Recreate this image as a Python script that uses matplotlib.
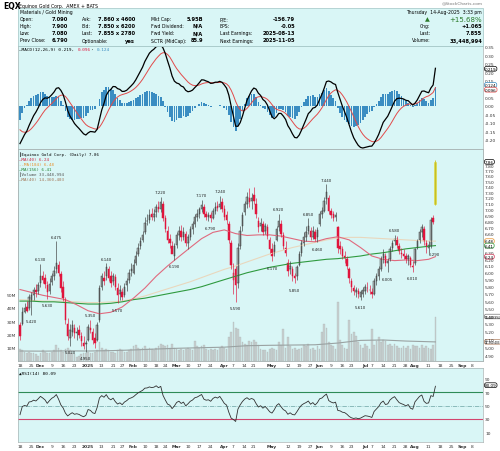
import numpy as np
import pandas as pd
import matplotlib
matplotlib.use("Agg")
import matplotlib.pyplot as plt
from matplotlib.patches import Rectangle

W, H = 500, 452

# ---- daily candles, Nov 18 2024 .. Aug 14 2025 ----
opens = [
    5.28, 5.30, 5.45, 5.52, 5.50,   # Nov 18
    5.62, 5.68, 5.75, 5.74,         # Nov 25
    5.85, 5.96, 5.92, 5.82, 5.74,   # Dec 2
    5.86, 5.95, 6.05, 6.12, 5.98,   # Dec 9
    5.80, 5.62, 5.30, 5.12, 5.20,   # Dec 16
    5.25, 5.18, 5.22, 5.15,         # Dec 23
    5.06, 5.04, 5.10, 5.25,         # Dec 30
    5.20, 5.12, 5.10, 5.35,         # Jan 6
    5.80, 5.92, 5.95, 6.05, 5.95,   # Jan 13
    5.88, 5.94, 5.78, 5.70,         # Jan 21
    5.72, 5.68, 5.82, 5.90, 6.02,   # Jan 27
    6.00, 6.15, 6.28, 6.40, 6.50,   # Feb 3
    6.62, 6.80, 6.82, 6.92, 6.88,   # Feb 10
    6.95, 7.05, 7.00, 7.10,         # Feb 18
    6.85, 6.65, 6.52, 6.40, 6.25,   # Feb 24
    6.42, 6.58, 6.65, 6.55, 6.60,   # Mar 3
    6.45, 6.55, 6.68, 6.75, 6.88,   # Mar 10
    6.92, 7.00, 7.05, 6.92, 6.88,   # Mar 17
    6.90, 6.86, 6.98, 7.06, 7.05,   # Mar 24
    7.12, 7.00, 6.90, 6.75, 6.45,   # Mar 31
    5.90, 6.05, 5.85, 6.40, 6.72,   # Apr 7
    6.95, 7.10, 7.20, 7.15,         # Apr 14
    7.25, 7.10, 6.80, 6.72, 6.75,   # Apr 21
    6.65, 6.70, 6.50, 6.35, 6.30,   # Apr 28
    6.50, 6.70, 6.75, 6.58, 6.38,   # May 5
    6.15, 6.05, 6.05, 5.95, 5.95,   # May 12
    6.12, 6.30, 6.45, 6.55, 6.65,   # May 19
    6.65, 6.55, 6.62, 6.55,         # May 27
    6.75, 6.92, 6.98, 7.18, 7.20,   # Jun 2
    6.98, 6.92, 6.88, 6.70, 6.40,   # Jun 9
    6.35, 6.25, 6.20, 6.05,         # Jun 16
    5.88, 5.78, 5.72, 5.74, 5.66,   # Jun 23
    5.70, 5.74, 5.78, 5.76,         # Jun 30
    5.72, 5.70, 5.88, 5.96, 6.06,   # Jul 7
    6.22, 6.25, 6.15, 6.20, 6.38,   # Jul 14
    6.48, 6.52, 6.40, 6.30, 6.28,   # Jul 21
    6.25, 6.20, 6.22, 6.10, 6.15,   # Jul 28
    6.38, 6.50, 6.62, 6.68, 6.45,   # Aug 4
    6.38, 6.40, 6.85, 7.09,         # Aug 11
]
highs = [
    5.32, 5.52, 5.58, 5.60, 5.70,
    5.72, 5.80, 5.84, 5.86,
    6.13, 6.02, 5.98, 5.88, 5.92,
    6.00, 6.10, 6.475, 6.18, 6.02,
    5.88, 5.66, 5.38, 5.30, 5.35,
    5.30, 5.26, 5.28, 5.20,
    5.14, 5.10, 5.30, 5.35,
    5.24, 5.18, 5.32, 5.82,
    6.00, 6.02, 6.14, 6.10, 6.02,
    6.00, 5.98, 5.85, 5.82,
    5.78, 5.85, 5.92, 6.05, 6.15,
    6.20, 6.32, 6.45, 6.55, 6.65,
    6.88, 6.92, 7.00, 7.02, 7.00,
    7.10, 7.15, 7.22, 7.14,
    6.90, 6.72, 6.60, 6.48, 6.45,
    6.62, 6.72, 6.74, 6.70, 6.65,
    6.60, 6.72, 6.80, 6.92, 7.00,
    7.05, 7.17, 7.10, 6.98, 6.95,
    6.95, 7.02, 7.12, 7.15, 7.24,
    7.20, 7.08, 6.98, 6.80, 6.50,
    6.15, 6.10, 6.45, 6.72, 6.95,
    7.15, 7.30, 7.38, 7.28,
    7.40, 7.20, 6.88, 6.85, 6.80,
    6.78, 6.75, 6.55, 6.45, 6.48,
    6.72, 6.92, 6.82, 6.62, 6.48,
    6.20, 6.18, 6.10, 6.00, 6.12,
    6.32, 6.50, 6.62, 6.72, 6.85,
    6.70, 6.72, 6.68, 6.70,
    6.98, 7.05, 7.22, 7.44, 7.25,
    7.02, 6.98, 6.95, 6.72, 6.48,
    6.40, 6.32, 6.25, 6.08,
    5.92, 5.82, 5.80, 5.78, 5.76,
    5.80, 5.84, 5.86, 5.82,
    5.78, 5.92, 6.00, 6.10, 6.25,
    6.35, 6.30, 6.22, 6.40, 6.50,
    6.58, 6.56, 6.45, 6.38, 6.35,
    6.30, 6.28, 6.25, 6.18, 6.38,
    6.52, 6.68, 6.75, 6.72, 6.50,
    6.48, 6.88, 6.90, 7.90,
]
lows = [
    5.10, 5.28, 5.44, 5.45, 5.48,
    5.42, 5.62, 5.66, 5.70,
    5.80, 5.85, 5.78, 5.63, 5.70,
    5.82, 5.90, 6.00, 5.95, 5.72,
    5.60, 5.30, 5.10, 5.02, 5.15,
    5.12, 5.10, 5.12, 5.02,
    4.98, 4.95, 5.08, 5.18,
    5.05, 5.00, 5.08, 5.32,
    5.75, 5.82, 5.90, 5.88, 5.80,
    5.82, 5.75, 5.57, 5.62,
    5.62, 5.65, 5.74, 5.85, 5.95,
    5.98, 6.12, 6.25, 6.36, 6.46,
    6.60, 6.74, 6.78, 6.82, 6.80,
    6.88, 6.95, 6.96, 6.80,
    6.62, 6.45, 6.38, 6.30, 6.19,
    6.38, 6.50, 6.48, 6.50, 6.40,
    6.35, 6.50, 6.60, 6.70, 6.80,
    6.85, 6.95, 6.88, 6.82, 6.80,
    6.79, 6.84, 6.92, 6.98, 7.00,
    6.95, 6.82, 6.75, 6.45, 6.05,
    5.70, 5.59, 5.78, 6.35, 6.65,
    6.90, 7.02, 7.05, 7.00,
    7.10, 6.85, 6.62, 6.65, 6.58,
    6.60, 6.52, 6.30, 6.17, 6.25,
    6.48, 6.65, 6.55, 6.35, 6.25,
    5.95, 5.98, 5.88, 5.85, 5.90,
    6.10, 6.25, 6.40, 6.48, 6.60,
    6.50, 6.52, 6.48, 6.46,
    6.72, 6.85, 6.95, 7.10, 6.92,
    6.85, 6.80, 6.80, 6.30, 6.28,
    6.20, 6.15, 6.05, 5.85,
    5.72, 5.68, 5.66, 5.64, 5.61,
    5.66, 5.70, 5.72, 5.70,
    5.64, 5.68, 5.82, 5.90, 6.03,
    6.15, 6.10, 6.005, 6.18, 6.32,
    6.42, 6.38, 6.28, 6.22, 6.20,
    6.15, 6.12, 6.08, 6.01, 6.12,
    6.35, 6.45, 6.55, 6.42, 6.29,
    6.30, 6.38, 6.75, 7.08,
]
closes = [
    5.14, 5.45, 5.50, 5.47, 5.66,
    5.68, 5.75, 5.72, 5.82,
    5.95, 5.90, 5.84, 5.72, 5.84,
    5.95, 6.02, 6.15, 6.00, 5.78,
    5.64, 5.35, 5.15, 5.22, 5.28,
    5.18, 5.20, 5.16, 5.08,
    5.02, 5.06, 5.26, 5.22,
    5.10, 5.06, 5.28, 5.78,
    5.95, 5.88, 6.08, 5.92, 5.85,
    5.96, 5.80, 5.68, 5.75,
    5.66, 5.80, 5.88, 6.00, 6.05,
    6.12, 6.25, 6.38, 6.48, 6.58,
    6.78, 6.80, 6.90, 6.88, 6.92,
    7.05, 7.00, 7.12, 6.85,
    6.68, 6.50, 6.45, 6.28, 6.40,
    6.58, 6.65, 6.55, 6.62, 6.45,
    6.55, 6.68, 6.75, 6.88, 6.92,
    7.00, 7.08, 6.92, 6.88, 6.90,
    6.85, 6.98, 7.05, 7.02, 7.10,
    7.00, 6.88, 6.82, 6.50, 6.12,
    6.00, 5.82, 6.38, 6.65, 6.90,
    7.10, 7.22, 7.12, 7.20,
    7.15, 6.92, 6.70, 6.78, 6.62,
    6.72, 6.56, 6.35, 6.25, 6.42,
    6.68, 6.80, 6.60, 6.40, 6.30,
    6.02, 6.10, 5.95, 5.92, 6.08,
    6.28, 6.45, 6.55, 6.62, 6.72,
    6.55, 6.65, 6.52, 6.66,
    6.92, 6.98, 7.15, 7.30, 6.98,
    6.90, 6.85, 6.90, 6.38, 6.35,
    6.25, 6.22, 6.10, 5.92,
    5.80, 5.74, 5.76, 5.70, 5.72,
    5.76, 5.80, 5.78, 5.75,
    5.70, 5.88, 5.96, 6.05, 6.20,
    6.28, 6.15, 6.18, 6.35, 6.45,
    6.52, 6.42, 6.32, 6.28, 6.25,
    6.20, 6.25, 6.12, 6.08, 6.35,
    6.48, 6.62, 6.70, 6.48, 6.40,
    6.42, 6.82, 6.79, 7.855,
]
volume_m = [
    9, 8, 7, 6, 7,
    6, 6, 5, 4,
    6, 8, 7, 6, 6,
    7, 8, 12, 10, 8,
    7, 9, 10, 8, 6,
    5, 3, 4, 5,
    6, 6, 7, 6,
    6, 7, 8, 14,
    10, 8, 9, 8, 7,
    7, 6, 8, 9,
    8, 7, 7, 8, 9,
    11, 12, 10, 9, 10,
    11, 9, 10, 9, 8,
    10, 11, 13, 12,
    11, 12, 10, 13, 10,
    9, 8, 9, 8, 9,
    10, 9, 8, 15, 11,
    10, 11, 12, 9, 8,
    9, 8, 9, 8, 10,
    11, 10, 9, 18, 22,
    29, 25, 24, 18, 14,
    13, 12, 15, 14,
    16, 14, 12, 9, 8,
    8, 7, 9, 10, 9,
    8, 14, 12, 24, 10,
    18, 11, 9, 10, 8,
    9, 10, 12, 11, 13,
    9, 10, 8, 11,
    9, 22, 28, 25, 14,
    12, 11, 9, 44, 16,
    12, 10, 9, 31,
    20, 22, 19, 14, 12,
    10, 13, 11, 9,
    24, 12, 15, 18, 14,
    16, 15, 12, 13, 11,
    13, 11, 10, 10, 11,
    10, 11, 9, 12, 11,
    11, 10, 12, 10, 11,
    10, 9, 12, 33.45,
]

# moving averages every 5 sessions
ma_idx = list(range(0, 181, 5)) + [183]
ma40 = [5.76, 5.72, 5.68, 5.65, 5.62, 5.55, 5.47, 5.43, 5.45, 5.52, 5.64, 5.78,
        5.95, 6.10, 6.24, 6.38, 6.52, 6.62, 6.66, 6.60, 6.57, 6.58, 6.58, 6.56,
        6.52, 6.48, 6.47, 6.52, 6.55, 6.50, 6.38, 6.25, 6.20, 6.18, 6.19, 6.18,
        6.20, 6.24]
ma104 = [5.62, 5.61, 5.60, 5.60, 5.60, 5.59, 5.58, 5.58, 5.59, 5.60, 5.63, 5.67,
         5.72, 5.77, 5.82, 5.87, 5.93, 5.99, 6.05, 6.10, 6.16, 6.22, 6.28, 6.33,
         6.38, 6.42, 6.46, 6.50, 6.53, 6.54, 6.54, 6.53, 6.52, 6.51, 6.50, 6.49,
         6.48, 6.48]
ma156 = [5.60, 5.60, 5.59, 5.59, 5.58, 5.57, 5.56, 5.56, 5.57, 5.59, 5.62, 5.64,
         5.67, 5.70, 5.73, 5.76, 5.80, 5.85, 5.90, 5.95, 6.00, 6.04, 6.08, 6.11,
         6.14, 6.16, 6.18, 6.20, 6.21, 6.23, 6.25, 6.28, 6.30, 6.33, 6.36, 6.38,
         6.40, 6.41]
vol_ma_idx = [0, 10, 20, 30, 40, 50, 60, 70, 80, 90, 100, 110, 120, 130, 140, 150, 160, 170, 183]
vol_ma = [7.5, 7.4, 7.6, 7.5, 7.8, 8.3, 9.0, 9.6, 10.0, 10.4, 11.5, 11.8, 12.0, 12.2,
          13.5, 15.5, 15.8, 15.0, 14.36]

# high / low price callouts: (session, kind, text)
callouts = [(5, 'lo', '5.420'), (9, 'hi', '6.130'), (12, 'lo', '5.630'), (16, 'hi', '6.475'),
            (22, 'lo', '5.020'), (29, 'lo', '4.950'), (31, 'hi', '5.350'), (38, 'hi', '6.140'),
            (43, 'lo', '5.570'), (62, 'hi', '7.220'), (68, 'lo', '6.190'), (80, 'hi', '7.170'),
            (84, 'lo', '6.790'), (88, 'hi', '7.240'), (95, 'lo', '5.590'), (111, 'lo', '6.170'),
            (114, 'hi', '6.920'), (121, 'lo', '5.850'), (127, 'hi', '6.850'), (131, 'lo', '6.460'),
            (135, 'hi', '7.440'), (150, 'lo', '5.610'), (162, 'lo', '6.005'), (165, 'hi', '6.580'),
            (173, 'lo', '6.010'), (179, 'lo', '6.290')]

holidays = ['2024-11-28', '2024-12-25', '2025-01-01', '2025-01-09', '2025-01-20', '2025-02-17',
            '2025-04-18', '2025-05-26', '2025-06-19', '2025-07-04', '2025-09-01']
tick_dates = ['2024-11-18', '2024-11-25', '2024-12-02', '2024-12-09', '2024-12-16', '2024-12-23',
              '2025-01-02', '2025-01-13', '2025-01-21', '2025-01-27', '2025-02-03', '2025-02-10',
              '2025-02-18', '2025-02-24', '2025-03-03', '2025-03-10', '2025-03-17', '2025-03-24',
              '2025-04-01', '2025-04-07', '2025-04-14', '2025-04-21', '2025-05-01', '2025-05-12',
              '2025-05-19', '2025-05-27', '2025-06-02', '2025-06-09', '2025-06-16', '2025-06-23',
              '2025-07-01', '2025-07-07', '2025-07-14', '2025-07-21', '2025-07-28', '2025-08-01',
              '2025-08-11', '2025-08-18', '2025-08-25', '2025-09-02', '2025-09-08']
tick_labels = ['18', '25', 'Dec', '9', '16', '23', '2025', '13', '21', '27', 'Feb', '10', '18', '24',
               'Mar', '10', '17', '24', 'Apr', '7', '14', '21', 'May', '12', '19', '27', 'Jun', '9',
               '16', '23', 'Jul', '7', '14', '21', '28', 'Aug', '11', '18', '25', 'Sep', '8']
bold_labels = {'Dec', '2025', 'Feb', 'Mar', 'Apr', 'May', 'Jun', 'Jul', 'Aug', 'Sep'}

BG = '#d9f6f6'
RED = '#e0143c'
UP = '#3c3c3c'
plt.rcParams['font.family'] = ['DejaVu Sans']

# trading calendar -> x positions
days = pd.bdate_range('2024-11-18', '2025-09-30')
days = days[~days.isin(pd.to_datetime(holidays))]
day_pos = {d: i for i, d in enumerate(days)}
xt = [day_pos[pd.Timestamp(d)] for d in tick_dates]

o, h, l, c = map(np.array, (opens, highs, lows, closes))
n = len(c)
idx = np.arange(n)

# MACD(12,26,9), EMAs seeded at the levels the chart opens with
e12, e26, sig = 5.36, 5.58, -0.12
macd, signal = [], []
for v in c:
    e12 += (v - e12) * 2 / 13
    e26 += (v - e26) * 2 / 27
    sig += ((e12 - e26) - sig) * 2 / 10
    macd.append(e12 - e26)
    signal.append(sig)
macd, signal = np.array(macd), np.array(signal)
hist = macd - signal

# RSI(14), Wilder smoothing
gain, loss, prev = 0.04, 0.07, c[0]
rsi = []
for v in c:
    d = v - prev
    gain = (gain * 13 + max(d, 0)) / 14
    loss = (loss * 13 + max(-d, 0)) / 14
    rsi.append(100 - 100 / (1 + gain / loss))
    prev = v


def rect(y0, y1):
    return [18 / W, 1 - y1 / H, 465 / W, (y1 - y0) / H]


def px(x, y):
    return x / W, 1 - y / H


fig = plt.figure(figsize=(W / 100, H / 100), dpi=100)
XL = (-0.88, 203.96)

# ---- header ----
fig.text(*px(3, 6.5), 'EQX', fontsize=5.5, fontweight='bold', va='center')
fig.text(*px(19, 6.5), 'Equinox Gold Corp.  AMEX + BATS', fontsize=3.3, va='center')
fig.text(*px(483, 3), '@StockCharts.com', fontsize=3.2, color='#777777', ha='right', va='center')
fig.patches.append(Rectangle(px(18, 47), 465 / W, 38 / H, transform=fig.transFigure,
                             fc=BG, ec='#9fc4c4', lw=0.5))
rows = [19.5, 26.5, 33.5, 41]
fig.text(*px(20, 12.5), 'Materials / Gold Mining', fontsize=3.3, va='center')
cols = [
    (20, 68, ['Open:', 'High:', 'Low:', 'Prev Close:'], ['7.090', '7.900', '7.080', '6.790']),
    (82, 135, ['Ask:', 'Bid:', 'Last:', 'Optionable:'],
     ['7.860 x 4600', '7.850 x 6200', '7.855 x 2780', 'yes']),
    (151, 203, ['Mkt Cap:', 'Fwd Dividend:', 'Fwd Yield:', 'SCTR (MidCap):'],
     ['5.95B', 'N/A', 'N/A', '85.9']),
    (220, 295, ['P/E:', 'EPS:', 'Last Earnings:', 'Next Earnings:'],
     ['-156.79', '-0.05', '2025-08-13', '2025-11-05']),
]
for xl, xv, labs, vals in cols:
    for y, lab, val in zip(rows, labs, vals):
        fig.text(*px(xl, y), lab, fontsize=3.3, va='center')
        fig.text(*px(xv, y), val, fontsize=3.7, fontweight='bold', va='center', ha='right')
fig.text(*px(482, 12.5), 'Thursday  14-Aug-2025  3:33 pm', fontsize=3.3, va='center', ha='right')
fig.text(*px(427, 19.5), '\u25b2', fontsize=4.5, color='#2a7a2a', va='center', ha='center')
fig.text(*px(482, 19.5), '+15.68%', fontsize=5.0, color='#2a7a2a', va='center', ha='right')
for y, lab, val, xl in [(26.5, 'Chg:', '+1.065', 420), (33.5, 'Last:', '7.855', 420),
                        (41, 'Volume:', '33,448,994', 412)]:
    fig.text(*px(xl, y), lab, fontsize=3.3, va='center')
    fig.text(*px(482, y), val, fontsize=3.7, fontweight='bold', va='center', ha='right')


def style(ax):
    ax.set_xlim(*XL)
    for s in ax.spines.values():
        s.set_color('#a8b4b4')
        s.set_linewidth(0.5)
    ax.tick_params(length=0, labelsize=3.2, pad=1.5, colors='#333333')


def tag(ax, y, text, ec, size=3.0):
    ax.text(1.004, y, text, transform=ax.get_yaxis_transform(), fontsize=size,
            va='center', ha='left', clip_on=False,
            bbox=dict(boxstyle='round,pad=0.1,rounding_size=0.5', fc='white', ec=ec, lw=0.5))


def date_axis(ax):
    ax.set_xticks(xt)
    ax.set_xticklabels(tick_labels)
    for t in ax.get_xticklabels():
        if t.get_text() in bold_labels:
            t.set_fontweight('bold')


# ---- MACD panel ----
axm = fig.add_axes(rect(47, 150), facecolor=BG)
axm.bar(idx, hist, width=0.75, color='#3a8dc2', lw=0)
axm.plot(idx, signal, color='#e24a4a', lw=0.7)
axm.plot(idx, macd, color='black', lw=0.9)
axm.set_ylim(-0.253, 0.353)
macd_ticks = [0.35, 0.30, 0.25, 0.20, 0.15, 0.10, 0.05, 0.00, -0.05, -0.10, -0.15, -0.20]
axm.yaxis.tick_right()
axm.set_yticks(macd_ticks)
axm.set_yticklabels(['%.2f' % t for t in macd_ticks])
axm.set_xticks([])
style(axm)
tag(axm, 0.219, '0.219', 'black')
tag(axm, 0.124, '0.124', '#3a8dc2')
tag(axm, 0.096, '0.096', '#e24a4a')
mono = ['DejaVu Sans Mono', 'DejaVu Sans']
cw = 3.2 * 100 / 72 * 0.602
x0 = 19
for seg, colr in [('\u2014MACD(12,26,9) 0.219, ', 'black'), ('0.096', RED), (', ', 'black'),
                  ('0.124', '#3a8dc2')]:
    fig.text(*px(x0, 50), seg, family=mono, fontsize=3.2, color=colr, va='center')
    x0 += len(seg) * cw

# ---- price + volume panel ----
axv = fig.add_axes(rect(150, 362), facecolor=BG)
axv.bar(idx, volume_m, width=0.75, color='#c6cfcf', ec='#aab4b4', lw=0.2)
axv.plot(vol_ma_idx, vol_ma, color='#9aa2a2', lw=0.8)
axv.set_ylim(0, 159.4)
axv.set_yticks([10, 20, 30, 40, 50])
axv.set_yticklabels(['10M', '20M', '30M', '40M', '50M'])
axv.set_xticks([])
style(axv)
tag(axv, 33.45, '33,448,994', '#777777', size=2.0)
tag(axv, 14.36, '14,360,403', '#b08060', size=2.0)

axp = fig.add_axes(rect(150, 362))
axp.patch.set_visible(False)
axp.set_yscale('log')
axp.plot(ma_idx, ma104, color='#e9d7bd', lw=0.8)
axp.plot(ma_idx, ma156, color='#2f9a3f', lw=0.8)
axp.plot(ma_idx, ma40, color='#e06a7e', lw=0.8)

prev_c = np.r_[o[0], c[:-1]]
col = np.where(c >= prev_c, UP, RED)
body_lo = np.minimum(o, c)
body_h = np.maximum(np.abs(c - o), 0.006)
fc = np.array(['#b4c0c0' if cc > oo else cl for cc, oo, cl in zip(c, o, col)])
m = idx < n - 1
axp.vlines(idx[m], l[m], h[m], colors=col[m], lw=0.45)
axp.bar(idx[m], body_h[m], bottom=body_lo[m], width=0.62, color=fc[m],
        edgecolor=col[m], lw=0.35)
# today's live candle
axp.vlines(idx[-1], l[-1], h[-1], colors='#c9c22a', lw=0.6)
axp.bar(idx[-1], body_h[-1], bottom=body_lo[-1], width=0.9, color='#b3ab1c',
        edgecolor='#ece43a', lw=0.4)

for i, kind, txt in callouts:
    if kind == 'hi':
        axp.annotate(txt, (i, h[i]), xytext=(0, 3.4), textcoords='offset points',
                     ha='center', va='center', fontsize=2.9, color='#222222')
    elif i == 179:
        axp.annotate(txt, (i, l[i]), xytext=(1.5, -0.5), textcoords='offset points',
                     ha='left', va='center', fontsize=2.9, color='#222222')
    else:
        axp.annotate(txt, (i, l[i]), xytext=(0, -4.6), textcoords='offset points',
                     ha='center', va='center', fontsize=2.9, color='#222222')

axp.set_ylim(4.84, 8.11)
price_ticks = np.round(np.arange(4.9, 7.81, 0.1), 2)
axp.yaxis.tick_right()
axp.yaxis.set_minor_locator(plt.NullLocator())
axp.set_yticks(price_ticks)
axp.set_yticklabels(['%.2f' % t for t in price_ticks])
axp.yaxis.set_minor_formatter(plt.NullFormatter())
style(axp)
date_axis(axp)
tag(axp, 7.86, '7.86', 'black')
tag(axp, 6.48, '6.48', '#e8902a')
tag(axp, 6.41, '6.41', '#2f9a3f')
tag(axp, 6.24, '6.24', '#d03050')

legend = [(155, '\u258eEquinox Gold Corp. (Daily) 7.86', 'black'),
          (160, '\u2014MA(40) 6.24', '#d0203f'),
          (165, '--MA(104) 6.48', '#e8902a'),
          (170, '\u2014MA(156) 6.41', '#208030'),
          (175, '\u258eVolume 33,448,994', '#555555'),
          (180, '\u2014MA(40) 14,360,403', '#a07050')]
for y, txt, colr in legend:
    fig.text(*px(19, y), txt, family=mono, fontsize=3.0, color=colr, va='center')

# ---- RSI panel ----
axr = fig.add_axes(rect(369, 443), facecolor=BG)
axr.axhline(70, color='#2e8b57', lw=0.8)
axr.axhline(30, color='#d3456e', lw=0.8)
axr.axhline(50, color='#6aa2a2', lw=0.5, ls='-.')
axr.plot(idx, rsi, color='#303030', lw=0.6)
axr.set_ylim(-4.1, 105.6)
axr.yaxis.tick_right()
axr.set_yticks([90, 70, 50, 30, 10])
style(axr)
date_axis(axr)
tag(axr, 80.09, '80.09', 'black')
fig.text(*px(19, 374), '\u25b2RSI(14) 80.09', family=mono, fontsize=3.2, va='center')

fig.savefig('out.png', dpi=100, facecolor='white')
